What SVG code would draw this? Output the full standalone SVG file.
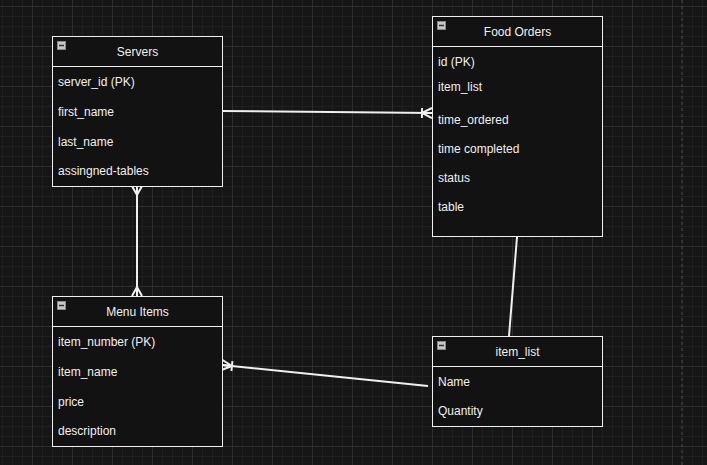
<svg xmlns="http://www.w3.org/2000/svg" width="707" height="465" viewBox="0 0 707 465">
<style>
.tbl{fill:#121212;stroke:#f0f0f0;stroke-width:1}
.sep{stroke:#f0f0f0;stroke-width:1}
.title{font-family:"Liberation Sans",Arial,sans-serif;font-size:12px;fill:#f0f0f0;text-anchor:middle}
.row{font-family:"Liberation Sans",Arial,sans-serif;font-size:12px;fill:#f0f0f0}
.icon{fill:#c8c8c8;stroke:#888;stroke-width:1}
.minus{stroke:#333;stroke-width:1.5}
.edge{fill:none;stroke:#f0f0f0;stroke-width:2}
.mk{fill:none;stroke:#f0f0f0;stroke-width:2}
</style>
<defs>
<pattern id="grid" x="32" y="6" width="40" height="40" patternUnits="userSpaceOnUse">
<rect width="40" height="40" fill="#161616"/>
<rect x="10" y="0" width="1" height="40" fill="#1f1f1f"/>
<rect x="20" y="0" width="1" height="40" fill="#1f1f1f"/>
<rect x="30" y="0" width="1" height="40" fill="#1f1f1f"/>
<rect x="0" y="10" width="40" height="1" fill="#1f1f1f"/>
<rect x="0" y="20" width="40" height="1" fill="#1f1f1f"/>
<rect x="0" y="30" width="40" height="1" fill="#1f1f1f"/>
<rect x="0" y="0" width="1" height="40" fill="#2e2e2e"/>
<rect x="0" y="0" width="40" height="1" fill="#2e2e2e"/>
</pattern>
<marker id="oneMany" viewBox="0 0 12 12" refX="12" refY="6" markerWidth="12" markerHeight="12" markerUnits="userSpaceOnUse" orient="auto-start-reverse">
<path class="mk" d="M12,1 L2,6 L12,11 M2,1 L2,11 M2,6 L12,6"/>
</marker>
<marker id="many" viewBox="0 0 12 12" refX="12" refY="6" markerWidth="12" markerHeight="12" markerUnits="userSpaceOnUse" orient="auto-start-reverse">
<path class="mk" d="M12,1 L3,6 L12,11 M3,6 L12,6"/>
</marker>
</defs>
<rect width="707" height="465" fill="url(#grid)"/>
<line x1="682" y1="0" x2="682" y2="465" stroke="#4a4a4a" stroke-width="1" stroke-dasharray="3,3"/>

<g id="connectors">
<path class="edge" d="M222,111 L432,113" marker-end="url(#oneMany)"/>
<path class="edge" d="M137,186 L137,296" marker-start="url(#many)" marker-end="url(#many)"/>
<path class="edge" d="M517,237 L509,336"/>
<path class="edge" d="M428,386 L222,365" marker-end="url(#oneMany)"/>
</g>

<g id="servers">
<rect class="tbl" x="52.5" y="36.5" width="170" height="150"/>
<line class="sep" x1="52.5" y1="66.5" x2="222.5" y2="66.5"/>
<rect class="icon" x="57.5" y="41.5" width="8" height="8"/>
<line class="minus" x1="59" y1="45.5" x2="64" y2="45.5"/>
<text class="title" x="137.5" y="56">Servers</text>
<text class="row" x="58" y="86">server_id (PK)</text>
<text class="row" x="58" y="116">first_name</text>
<text class="row" x="58" y="146">last_name</text>
<text class="row" x="58" y="175">assingned-tables</text>
</g>

<g id="food-orders">
<rect class="tbl" x="432.5" y="16.5" width="170" height="220"/>
<line class="sep" x1="432.5" y1="46.5" x2="602.5" y2="46.5"/>
<rect class="icon" x="437.5" y="21.5" width="8" height="8"/>
<line class="minus" x1="439" y1="25.5" x2="444" y2="25.5"/>
<text class="title" x="517.5" y="36">Food Orders</text>
<text class="row" x="438" y="66">id (PK)</text>
<text class="row" x="438" y="91">item_list</text>
<text class="row" x="438" y="124">time_ordered</text>
<text class="row" x="438" y="153">time completed</text>
<text class="row" x="438" y="182">status</text>
<text class="row" x="438" y="211">table</text>
</g>

<g id="menu-items">
<rect class="tbl" x="52.5" y="296.5" width="170" height="150"/>
<line class="sep" x1="52.5" y1="326.5" x2="222.5" y2="326.5"/>
<rect class="icon" x="57.5" y="301.5" width="8" height="8"/>
<line class="minus" x1="59" y1="305.5" x2="64" y2="305.5"/>
<text class="title" x="137.5" y="316">Menu Items</text>
<text class="row" x="58" y="346">item_number (PK)</text>
<text class="row" x="58" y="376">item_name</text>
<text class="row" x="58" y="406">price</text>
<text class="row" x="58" y="435">description</text>
</g>

<g id="item-list">
<rect class="tbl" x="432.5" y="336.5" width="170" height="90"/>
<line class="sep" x1="432.5" y1="366.5" x2="602.5" y2="366.5"/>
<rect class="icon" x="437.5" y="341.5" width="8" height="8"/>
<line class="minus" x1="439" y1="345.5" x2="444" y2="345.5"/>
<text class="title" x="517.5" y="356">item_list</text>
<text class="row" x="438" y="386">Name</text>
<text class="row" x="438" y="415">Quantity</text>
</g>
</svg>
